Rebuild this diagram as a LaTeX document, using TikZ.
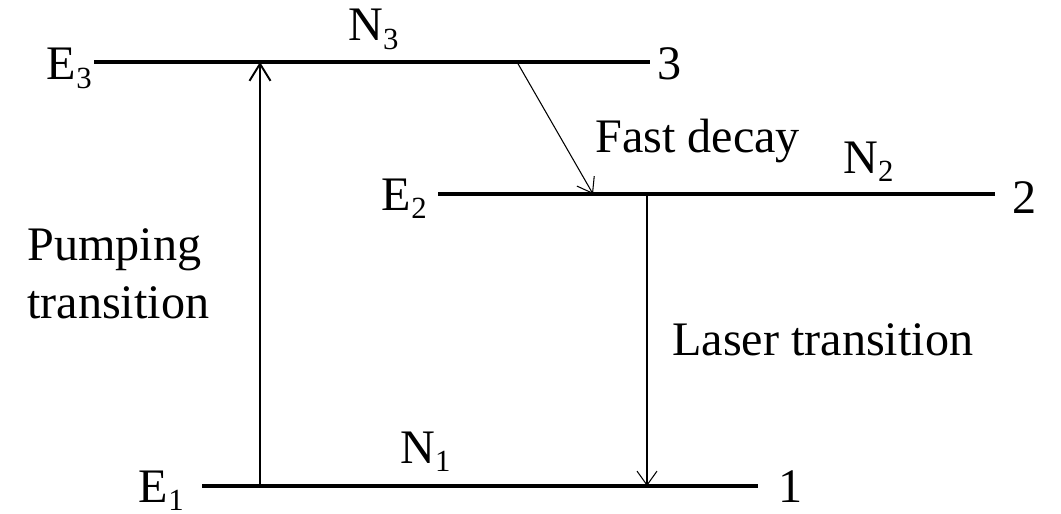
\documentclass[tikz,border=0pt]{standalone}
\usepackage{fontspec}
\setmainfont{Liberation Serif}
\usepackage{tikz}
\usetikzlibrary{arrows.meta}
\newcommand{\lsub}[1]{\raisebox{-4.6pt}{\fontsize{17.5}{20}\selectfont #1}}

\begin{document}
\begin{tikzpicture}[x=1cm,y=1cm,
    level/.style={line width=2.8pt},
    pump/.style={line width=1.1pt,-{Straight Barb[length=0.34cm,width=0.42cm,line width=1.1pt]}},
    trans/.style={line width=0.6pt,-{Straight Barb[length=0.28cm,width=0.4cm,line width=0.6pt]}},
    lbl/.style={inner sep=0pt,font=\fontsize{27.4}{33}\selectfont}]
  \useasboundingbox (0,0) rectangle (21.22,-10.28);

  % Energy levels
  \coordinate (E3l) at (1.88,-1.24);
  \coordinate (E3r) at (13.0,-1.24);
  \coordinate (E2l) at (8.76,-3.88);
  \coordinate (E2r) at (19.9,-3.88);
  \coordinate (E1l) at (4.04,-9.72);
  \coordinate (E1r) at (15.16,-9.72);
  \foreach \n in {1,2,3}
    \draw[level] (E\n l) -- (E\n r);

  % Level names and populations
  \node[lbl,anchor=base east] (e3) at (1.84,-1.6) {E\lsub{3}};
  \node[lbl,anchor=base east] (e2) at (8.54,-4.2) {E\lsub{2}};
  \node[lbl,anchor=base east] (e1) at (3.68,-10.04) {E\lsub{1}};
  \node[lbl,anchor=base west] (n3) at (6.96,-0.82) {N\lsub{3}};
  \node[lbl,anchor=base west] (n2) at (16.86,-3.46) {N\lsub{2}};
  \node[lbl,anchor=base west] (n1) at (8.0,-9.26) {N\lsub{1}};
  \node[lbl,anchor=base west] (k3) at (13.14,-1.6) {3};
  \node[lbl,anchor=base west] (k2) at (20.24,-4.26) {2};
  \node[lbl,anchor=base west] (k1) at (15.56,-10.04) {1};

  % Transitions
  \coordinate (P1) at (5.2,-9.72);
  \coordinate (P3) at (5.2,-1.24);
  \coordinate (D3) at (10.34,-1.24);
  \coordinate (D2) at (11.86,-3.88);
  \coordinate (L2) at (12.94,-3.88);
  \coordinate (L1) at (12.94,-9.72);
  \draw[pump] (P1) -- (P3);
  \draw[trans] (D3) -- (D2);
  \draw[trans] (L2) -- (L1);

  \node[lbl,anchor=base west,align=left] (pt) at (0.54,-6.36) {Pumping\\transition};
  \node[lbl,anchor=base west] (fd) at (11.9,-3.04) {Fast decay};
  \node[lbl,anchor=base west] (lt) at (13.44,-7.1) {Laser transition};
\end{tikzpicture}
\end{document}
